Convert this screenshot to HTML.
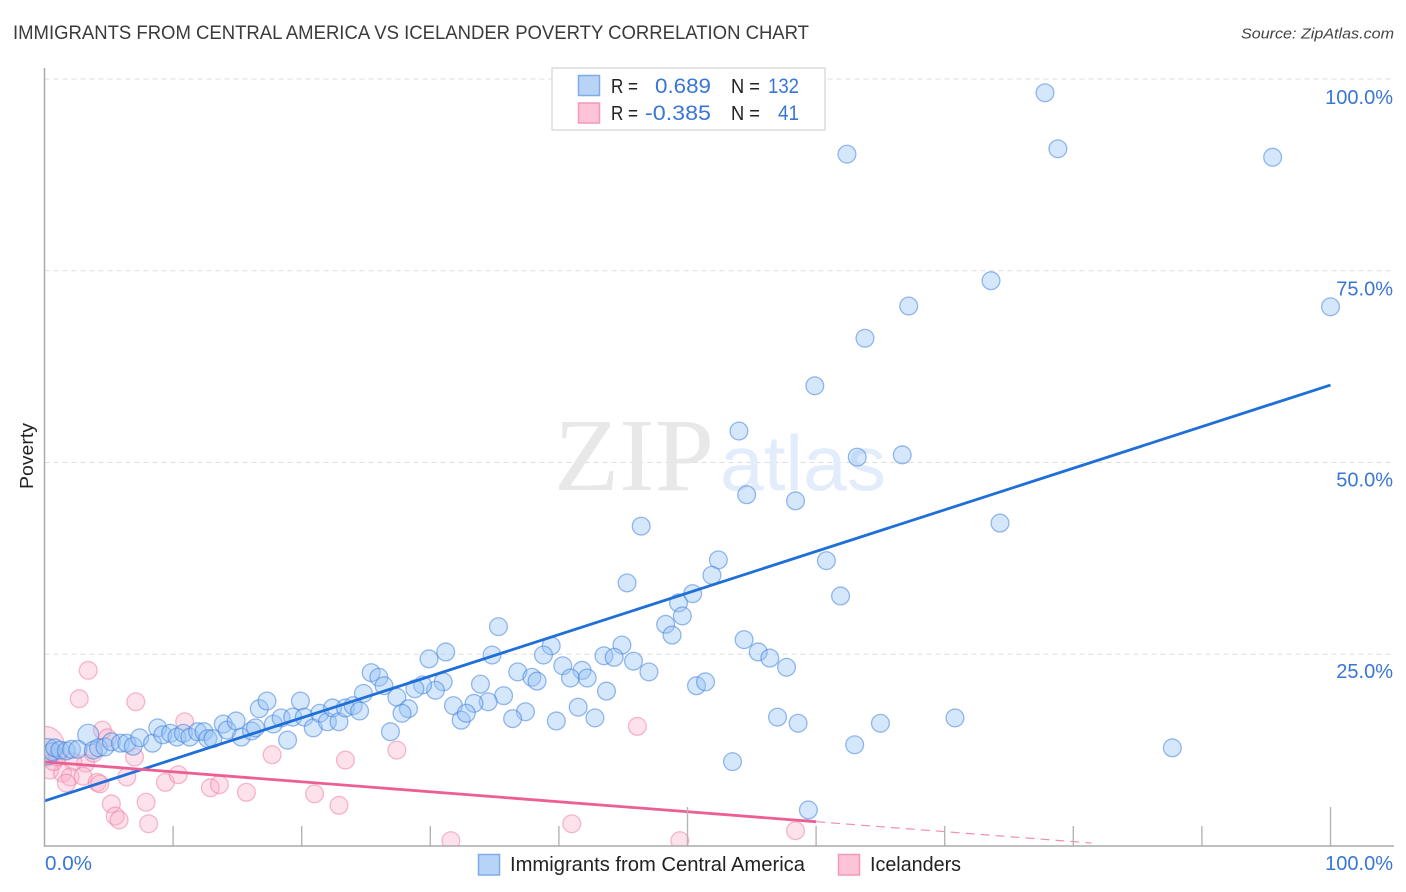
<!DOCTYPE html>
<html lang="en">
<head>
<meta charset="utf-8">
<title>Immigrants from Central America vs Icelander Poverty Correlation Chart</title>
<style>
html,body{margin:0;padding:0;background:#fff;}
svg{display:block;font-family:"Liberation Sans",sans-serif;}
</style>
</head>
<body>
<svg id="chart" xmlns="http://www.w3.org/2000/svg" width="1406" height="892" viewBox="0 0 1406 892">
  <defs>
    <clipPath id="plot-clip"><rect x="44.5" y="60" width="1350" height="786"></rect></clipPath>
  </defs>
  <rect x="0" y="0" width="1406" height="892" fill="#ffffff"></rect>
  <text x="13" y="39" font-size="19" fill="#3a3a3a" textLength="796" lengthAdjust="spacingAndGlyphs">IMMIGRANTS FROM CENTRAL AMERICA VS ICELANDER POVERTY CORRELATION CHART</text>
  <text x="1241" y="38.500" font-size="15" font-style="italic" fill="#444" textLength="153" lengthAdjust="spacingAndGlyphs">Source: ZipAtlas.com</text>
  <g id="grid"></g>
  <text x="554" y="490" font-family="'Liberation Serif',serif" font-size="104" fill="#e8e8e8" textLength="160" lengthAdjust="spacingAndGlyphs">ZIP</text>
  <text x="720" y="490" font-size="78" fill="#e3ecfb" textLength="166" lengthAdjust="spacingAndGlyphs">atlas</text>
  <g id="pink-points" clip-path="url(#plot-clip)"></g>
  <g id="blue-points" clip-path="url(#plot-clip)"></g>
  <g id="trend-lines" clip-path="url(#plot-clip)"></g>
  <g id="axes"></g>
  <text transform="translate(33,456) rotate(-90)" text-anchor="middle" font-size="18" fill="#222" textLength="66" lengthAdjust="spacingAndGlyphs">Poverty</text>

  <g>
    <rect x="552" y="68" width="273" height="62" fill="#fff" stroke="#dcdcdc" stroke-width="1.500"></rect>
    <rect x="578.500" y="75.500" width="21" height="20" fill="#b7d4f7" stroke="#7fabe6" stroke-width="1.500"></rect>
    <rect x="578.500" y="103" width="21" height="20" fill="#fcc4d6" stroke="#f29ab7" stroke-width="1.500"></rect>
    <text x="611" y="93" font-size="20" fill="#222" textLength="27" lengthAdjust="spacingAndGlyphs">R =</text>
    <text x="655" y="93" font-size="21" fill="#3a76d4" textLength="56" lengthAdjust="spacingAndGlyphs">0.689</text>
    <text x="731" y="93" font-size="20" fill="#222" textLength="29" lengthAdjust="spacingAndGlyphs">N =</text>
    <text x="768" y="93" font-size="21" fill="#3a76d4" textLength="31" lengthAdjust="spacingAndGlyphs">132</text>
    <text x="611" y="120" font-size="20" fill="#222" textLength="27" lengthAdjust="spacingAndGlyphs">R =</text>
    <text x="645" y="120" font-size="21" fill="#3a76d4" textLength="66" lengthAdjust="spacingAndGlyphs">-0.385</text>
    <text x="731" y="120" font-size="20" fill="#222" textLength="29" lengthAdjust="spacingAndGlyphs">N =</text>
    <text x="778" y="120" font-size="21" fill="#3a76d4" textLength="21" lengthAdjust="spacingAndGlyphs">41</text>
  </g>

  <g>
    <rect x="478.500" y="854.500" width="21" height="20.500" fill="#b7d4f7" stroke="#7fabe6" stroke-width="1.500"></rect>
    <text x="510" y="871" font-size="20" fill="#222" textLength="295" lengthAdjust="spacingAndGlyphs">Immigrants from Central America</text>
    <rect x="838.500" y="854.500" width="21" height="20.500" fill="#fcc4d6" stroke="#f29ab7" stroke-width="1.500"></rect>
    <text x="870" y="871" font-size="20" fill="#222" textLength="91" lengthAdjust="spacingAndGlyphs">Icelanders</text>
  </g>
</svg>
<script>
const immigrantsX = [77.8,62.4,78.8,95.5,73.6,67.2,100.0,63.8,59.9,54.0,63.2,66.7,54.6,58.4,46.4,74.3,45.3,52.4,51.9,60.8,61.9,50.4,49.3,49.6,48.3,48.8,54.4,55.5,56.4,57.7,44.9,43.5,44.3,45.8,47.0,39.4,38.8,35.3,34.8,31.2,29.9,25.4,26.0,26.4,36.8,37.9,38.3,40.3,41.8,40.9,42.2,43.7,50.7,51.4,33.9,35.7,34.5,33.4,31.0,30.4,29.4,28.8,27.4,24.8,31.8,32.4,32.8,28.3,27.8,26.9,37.4,36.4,41.5,39.8,42.8,57.0,58.6,65.0,70.8,63.0,87.7,53.5,59.4,0.6,0.8,1.2,1.7,2.1,2.6,3.8,4.2,4.7,5.2,5.9,6.4,6.9,7.4,8.4,8.8,9.2,9.8,10.3,10.8,11.3,11.9,12.4,12.7,13.1,13.9,14.2,14.9,15.3,16.1,16.4,16.7,17.3,17.8,18.4,18.9,19.3,19.9,20.2,20.9,21.4,22.0,22.4,22.9,23.4,24.0,24.5];
const immigrantsY = [98.2,90.2,90.9,89.8,73.7,70.4,70.3,66.2,60.0,54.1,50.7,51.0,45.8,45.0,41.7,42.1,34.3,37.3,35.3,37.2,32.6,32.9,31.7,30.0,28.9,27.5,26.9,25.3,24.5,23.3,26.2,24.8,24.6,24.1,22.7,26.1,24.9,28.6,24.9,25.3,24.4,22.6,22.0,20.9,22.7,22.0,21.5,23.5,22.9,21.9,21.9,20.2,20.9,21.4,21.1,19.6,18.8,18.6,21.4,20.3,21.0,20.5,19.4,19.9,18.3,16.4,17.3,17.9,17.3,14.9,17.5,16.6,18.1,16.3,16.7,16.8,16.0,16.0,16.7,13.2,12.8,11.0,4.7,12.3,12.8,12.5,12.4,12.6,12.6,12.5,12.8,12.9,13.6,13.4,13.4,13.0,14.1,13.4,15.4,14.5,14.7,14.2,14.7,14.2,14.9,14.9,14.0,14.0,15.9,15.1,16.3,14.2,15.0,15.4,17.9,18.9,15.9,16.7,13.8,16.8,18.9,16.8,15.4,17.3,16.2,18.0,16.2,18.0,18.3,17.6];
const immigrantsLargeX = [0.2,3.4];
const immigrantsLargeY = [12.3,14.5];
const icelandersX = [3.4,2.7,7.1,10.9,4.5,4.9,7.0,3.2,2.2,0.4,1.4,2.0,3.0,1.7,4.1,4.3,6.4,9.4,10.4,5.2,5.5,5.8,7.9,8.1,12.9,13.6,15.7,17.7,21.0,22.9,23.4,27.4,31.6,41.0,46.1,49.4,58.4,0.7,1.0,3.8];
const icelandersY = [22.9,19.2,18.8,16.2,15.1,14.1,11.6,10.8,11.0,9.9,9.5,9.0,9.1,8.2,8.3,8.1,9.0,8.3,9.3,5.5,3.9,3.4,5.7,2.9,7.6,8.0,7.0,11.9,6.8,5.3,11.2,12.5,0.7,2.9,15.6,0.7,2.0,11.0,11.6,12.1];
const icelandersLargeX = [0.0];
const icelandersLargeY = [13.0];
const immigrantsTrendX = [0,100];
const immigrantsTrendY = [5.87,60.1];
const icelandersTrendX = [0,60];
const icelandersTrendY = [10.97,3.17];
const icelandersTrendDashX = [60,81.4];
const icelandersTrendDashY = [3.17,0.39];
const xTickValues = [10,20,30,40,50,60,70,80,90,100];
const majorXTicks = [50,100];
const yGridValues = [100,75,50,25];
const yTickLabels = ["100.0%","75.0%","50.0%","25.0%"];
const xEndLabels = ["0.0%","100.0%"];

const NS = "http://www.w3.org/2000/svg";
const xScale = v => 44.5 + v * 12.86;
const yScale = v => 846 - v * 7.67;
const yLabelScale = v => 104 + (100 - v) * 7.65;

function make(parent, tag, attrs) {
  const el = document.createElementNS(NS, tag);
  Object.keys(attrs).forEach(k => el.setAttribute(k, attrs[k]));
  document.getElementById(parent).appendChild(el);
  return el;
}

yGridValues.forEach((v, i) => {
  const line = make("grid", "line", {x1: 44.5, x2: 1393, y1: yScale(v), y2: yScale(v), stroke: "#dddddd", "stroke-width": 1, "stroke-dasharray": "5 4"});
  
  
  const label = make("axes", "text", {x: 1393, y: yLabelScale(v), "text-anchor": "end", "font-size": 20, fill: "#3a76d4"});
  label.textContent = yTickLabels[i];
  
  
});

function drawPoint(group, x, y, r, fill, stroke, name) {
  const c = make(group, "circle", {cx: xScale(x), cy: yScale(y), r: r, fill: fill, stroke: stroke, "stroke-width": 1.3});
  
  
}

const pinkFill = "rgba(250,180,202,0.38)", pinkStroke = "rgba(236,120,162,0.5)";
const blueFill = "rgba(150,195,245,0.4)", blueStroke = "rgba(60,125,220,0.52)";
icelandersLargeX.forEach((x, i) => drawPoint("pink-points", x, icelandersLargeY[i], 20, pinkFill, pinkStroke, "icelanders-point"));
icelandersX.forEach((x, i) => drawPoint("pink-points", x, icelandersY[i], 8.9, pinkFill, pinkStroke, "icelanders-point"));
immigrantsLargeX.forEach((x, i) => drawPoint("blue-points", x, immigrantsLargeY[i], i === 0 ? 13 : 10.5, blueFill, blueStroke, "immigrants-point"));
immigrantsX.forEach((x, i) => drawPoint("blue-points", x, immigrantsY[i], 8.9, blueFill, blueStroke, "immigrants-point"));

const blueTrend = make("trend-lines", "line", {x1: xScale(immigrantsTrendX[0]), y1: yScale(immigrantsTrendY[0]), x2: xScale(immigrantsTrendX[1]), y2: yScale(immigrantsTrendY[1]), stroke: "#1f6fd8", "stroke-width": 2.8});


const pinkTrend = make("trend-lines", "line", {x1: xScale(icelandersTrendX[0]), y1: yScale(icelandersTrendY[0]), x2: xScale(icelandersTrendX[1]), y2: yScale(icelandersTrendY[1]), stroke: "#ec5f95", "stroke-width": 2.8});


const pinkDash = make("trend-lines", "line", {x1: xScale(icelandersTrendDashX[0]), y1: yScale(icelandersTrendDashY[0]), x2: xScale(icelandersTrendDashX[1]), y2: yScale(icelandersTrendDashY[1]), stroke: "#f08fb2", "stroke-width": 1.2, "stroke-dasharray": "9 6"});



xTickValues.forEach(v => {
  const top = majorXTicks.indexOf(v) >= 0 ? 807 : 826;
  const tick = make("axes", "line", {x1: xScale(v), x2: xScale(v), y1: top, y2: 846, stroke: "#b5b5b5", "stroke-width": 1.4});
  
  
});

const yAxis = make("axes", "line", {x1: 44.5, x2: 44.5, y1: 68, y2: 846.7, stroke: "#aaaaaa", "stroke-width": 1.5});


const xAxis = make("axes", "line", {x1: 44, x2: 1394, y1: 846, y2: 846, stroke: "#aaaaaa", "stroke-width": 1.5});



const xStart = make("axes", "text", {x: 45, y: 870, "font-size": 20, fill: "#3a76d4", textLength: 47, lengthAdjust: "spacingAndGlyphs"});
xStart.textContent = xEndLabels[0];


const xEnd = make("axes", "text", {x: 1393, y: 870, "text-anchor": "end", "font-size": 20, fill: "#3a76d4"});
xEnd.textContent = xEndLabels[1];


</script>
</body>
</html>
